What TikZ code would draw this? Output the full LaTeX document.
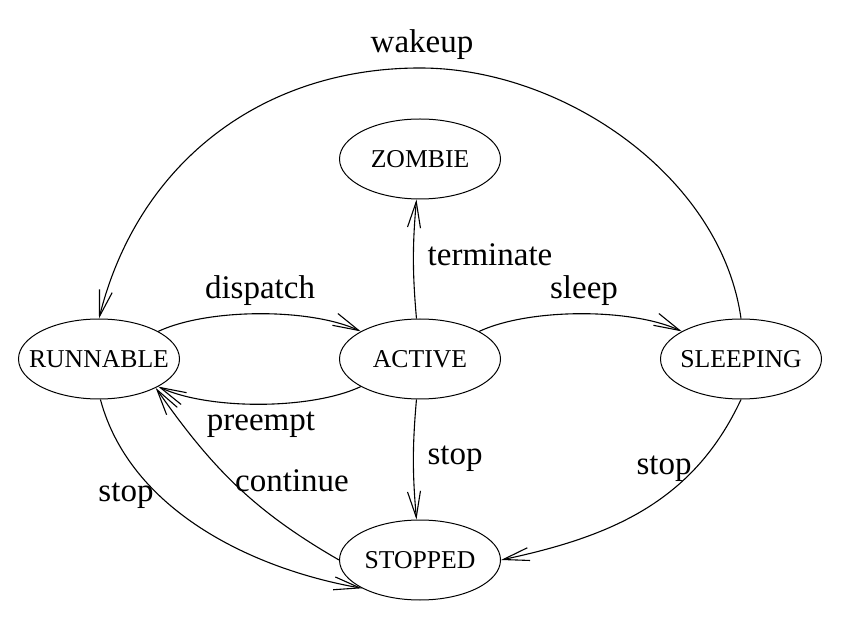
\documentclass[tikz,border=0pt]{standalone}
\usepackage{fontspec}
\setmainfont{Liberation Serif}
\usetikzlibrary{arrows.meta,shapes.geometric}
\newcommand{\statefont}{\fontsize{12.85pt}{15pt}\selectfont}
\newcommand{\edgefont}{\fontsize{16.5pt}{19pt}\selectfont}
\begin{document}
\begin{tikzpicture}[x=0.5pt, y=0.5pt,
    state/.style={draw, ellipse, line width=0.5pt, minimum width=80.5pt, minimum height=40pt, inner xsep=-12pt, inner ysep=0pt, font=\statefont},
    lbl/.style={anchor=base, inner sep=0pt, font=\edgefont},
    trans/.style={draw, line width=0.55pt, -{Straight Barb[length=13pt, width=6.5pt]}}]
	\useasboundingbox (0,0) rectangle (861,-635);

	% states
	\node[state] (zombie) at (420,-159) {ZOMBIE};
	\node[state] (runnable) at (99,-359) {RUNNABLE};
	\node[state] (active) at (420,-359) {ACTIVE};
	\node[state] (sleeping) at (741,-359) {SLEEPING};
	\node[state] (stopped) at (420,-560) {STOPPED};
	\coordinate (wtop) at (420,-68);

	% transitions
	\draw[trans] (sleeping.north) to[out=98, in=0, looseness=0.9] (wtop) to[out=180, in=76] (runnable.north);
	\draw[trans] (runnable) to[out=25, in=155, looseness=0.7] (active);
	\draw[trans] (active) to[out=205, in=-25, looseness=0.7] (runnable);
	\draw[trans] (active) to[out=25, in=155, looseness=0.7] (sleeping);
	\draw[trans] (active) to[out=95, in=-95] (zombie);
	\draw[trans] (active) to[out=-95, in=95] (stopped);
	\draw[trans] (runnable.-88) to[out=-75, in=170, looseness=0.9] (stopped.206);
	\draw[trans] (stopped.west) to[out=150, in=-55] (runnable.-27);
	\draw[trans] (sleeping.south) to[out=-115, in=12] (stopped.east);

	% labels
	\node[lbl] (lwakeup) at (422,-53) {wakeup};
	\node[lbl] (ldispatch) at (260,-299) {dispatch};
	\node[lbl] (lsleep) at (584,-299) {sleep};
	\node[lbl] (lterminate) at (490,-266) {terminate};
	\node[lbl] (lpreempt) at (261,-431) {preempt};
	\node[lbl] (lstopa) at (455,-465) {stop};
	\node[lbl] (lcontinue) at (292,-491) {continue};
	\node[lbl] (lstopr) at (126,-502) {stop};
	\node[lbl] (lstops) at (664,-474) {stop};
\end{tikzpicture}
\end{document}
